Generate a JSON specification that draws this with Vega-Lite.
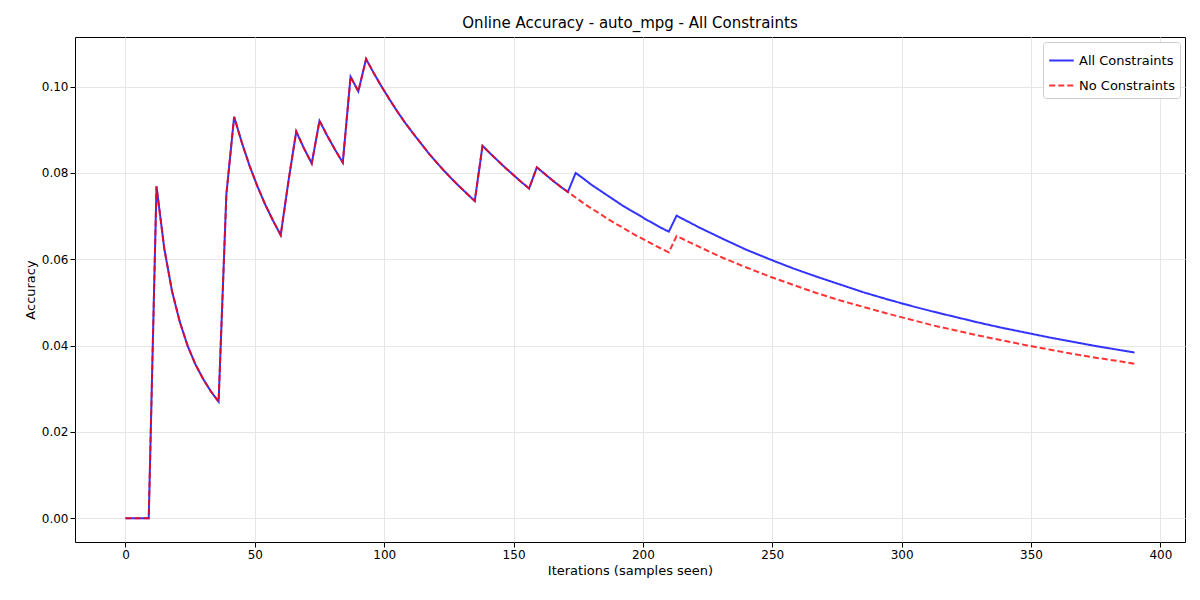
{
"$schema":"https://vega.github.io/schema/vega-lite/v6.json",
"width":1110,"height":505,"autosize":"none",
"padding":{"left":75,"top":37,"right":15,"bottom":58},
"background":"white",
"title":{"text":"Online Accuracy - auto_mpg - All Constraints","fontSize":15,"font":"DejaVu Sans","fontWeight":"normal","offset":6},
"data":{"values":[
{"i":0,"a":0,"b":0},{"i":3,"a":0,"b":0},{"i":6,"a":0,"b":0},{"i":9,"a":0,"b":0},
{"i":12,"a":0.0769,"b":0.0769},{"i":15,"a":0.0625,"b":0.0625},{"i":18,"a":0.0526,"b":0.0526},{"i":21,"a":0.0455,"b":0.0455},
{"i":24,"a":0.04,"b":0.04},{"i":27,"a":0.0357,"b":0.0357},{"i":30,"a":0.0323,"b":0.0323},{"i":33,"a":0.0294,"b":0.0294},
{"i":36,"a":0.027,"b":0.027},{"i":39,"a":0.075,"b":0.075},{"i":42,"a":0.093,"b":0.093},{"i":45,"a":0.087,"b":0.087},
{"i":48,"a":0.0816,"b":0.0816},{"i":51,"a":0.0769,"b":0.0769},{"i":54,"a":0.0727,"b":0.0727},{"i":57,"a":0.069,"b":0.069},
{"i":60,"a":0.0656,"b":0.0656},{"i":63,"a":0.0781,"b":0.0781},{"i":66,"a":0.0896,"b":0.0896},{"i":69,"a":0.0857,"b":0.0857},
{"i":72,"a":0.0822,"b":0.0822},{"i":75,"a":0.0921,"b":0.0921},{"i":78,"a":0.0886,"b":0.0886},{"i":81,"a":0.0854,"b":0.0854},
{"i":84,"a":0.0824,"b":0.0824},{"i":87,"a":0.1023,"b":0.1023},{"i":90,"a":0.0989,"b":0.0989},{"i":93,"a":0.1064,"b":0.1064},
{"i":96,"a":0.1031,"b":0.1031},{"i":99,"a":0.1,"b":0.1},{"i":102,"a":0.0971,"b":0.0971},{"i":105,"a":0.0943,"b":0.0943},
{"i":108,"a":0.0917,"b":0.0917},{"i":111,"a":0.0893,"b":0.0893},{"i":114,"a":0.087,"b":0.087},{"i":117,"a":0.0847,"b":0.0847},
{"i":120,"a":0.0826,"b":0.0826},{"i":123,"a":0.0806,"b":0.0806},{"i":126,"a":0.0787,"b":0.0787},{"i":129,"a":0.0769,"b":0.0769},
{"i":132,"a":0.0752,"b":0.0752},{"i":135,"a":0.0735,"b":0.0735},{"i":138,"a":0.0863,"b":0.0863},{"i":141,"a":0.0845,"b":0.0845},
{"i":144,"a":0.0828,"b":0.0828},{"i":147,"a":0.0811,"b":0.0811},{"i":150,"a":0.0795,"b":0.0795},{"i":153,"a":0.0779,"b":0.0779},
{"i":156,"a":0.0764,"b":0.0764},{"i":159,"a":0.0813,"b":0.0813},{"i":162,"a":0.0798,"b":0.0798},{"i":165,"a":0.0783,"b":0.0783},
{"i":168,"a":0.0769,"b":0.0769},{"i":171,"a":0.0756,"b":0.0756},
{"i":174,"a":0.08,"b":0.0743},{"i":177,"a":0.0787,"b":0.073},{"i":180,"a":0.0773,"b":0.0718},{"i":183,"a":0.0761,"b":0.0707},
{"i":186,"a":0.0749,"b":0.0695},{"i":189,"a":0.0737,"b":0.0684},{"i":192,"a":0.0725,"b":0.0674},{"i":195,"a":0.0714,"b":0.0663},
{"i":198,"a":0.0704,"b":0.0653},{"i":201,"a":0.0693,"b":0.0644},{"i":204,"a":0.0683,"b":0.0634},{"i":207,"a":0.0673,"b":0.0625},
{"i":210,"a":0.0664,"b":0.0616},{"i":213,"a":0.0701,"b":0.0654},{"i":222,"a":0.0673,"b":0.0628},{"i":231,"a":0.0647,"b":0.0603},
{"i":240,"a":0.0622,"b":0.0581},{"i":249,"a":0.06,"b":0.056},{"i":258,"a":0.0579,"b":0.0541},{"i":267,"a":0.056,"b":0.0522},
{"i":276,"a":0.0542,"b":0.0505},{"i":285,"a":0.0524,"b":0.049},{"i":294,"a":0.0508,"b":0.0475},{"i":303,"a":0.0493,"b":0.0461},
{"i":312,"a":0.0479,"b":0.0447},{"i":321,"a":0.0466,"b":0.0435},{"i":330,"a":0.0453,"b":0.0423},{"i":339,"a":0.0441,"b":0.0412},
{"i":348,"a":0.043,"b":0.0401},{"i":357,"a":0.0419,"b":0.0391},{"i":366,"a":0.0409,"b":0.0381},{"i":375,"a":0.0399,"b":0.0372},
{"i":384,"a":0.039,"b":0.0364},{"i":390,"a":0.0384,"b":0.0358}
]},
"transform":[{"fold":["a","b"],"as":["k","v"]},{"lookup":"k","from":{"data":{"values":[{"k":"a","s":"All Constraints"},{"k":"b","s":"No Constraints"}]},"key":"k","fields":["s"]}}],
"mark":{"type":"line","strokeWidth":2,"opacity":0.8,"clip":true},
"encoding":{
"x":{"field":"i","type":"quantitative","scale":{"domain":[-19.5,409.5],"nice":false,"zero":false},
"axis":{"values":[0,50,100,150,200,250,300,350,400],"title":"Iterations (samples seen)","titleFontWeight":"normal","titleFontSize":13,"labelFontSize":12,"labelColor":"black","titleColor":"black","gridColor":"#e6e6e6","tickColor":"black","domain":false,"labelFlush":false}},
"y":{"field":"v","type":"quantitative","scale":{"domain":[-0.0055,0.1115],"nice":false,"zero":false},
"axis":{"values":[0,0.02,0.04,0.06,0.08,0.1],"format":".2f","title":"Accuracy","titleFontWeight":"normal","titleFontSize":13,"labelFontSize":12,"labelColor":"black","titleColor":"black","gridColor":"#e6e6e6","tickColor":"black","domain":false}},
"color":{"field":"s","type":"nominal","scale":{"domain":["All Constraints","No Constraints"],"range":["#0000ff","#ff0000"]},"title":null},
"strokeDash":{"field":"s","type":"nominal","scale":{"domain":["All Constraints","No Constraints"],"range":[[1,0],[6,3]]},"title":null}
},
"config":{"font":"DejaVu Sans","view":{"stroke":"black","strokeWidth":1},"legend":{"orient":"top-right","offset":5,"labelFontSize":13,"symbolType":"stroke","symbolSize":600,"symbolStrokeWidth":2,"fillColor":"white","strokeColor":"#cccccc","padding":5,"rowPadding":4,"cornerRadius":3,"labelColor":"black"}}
}
